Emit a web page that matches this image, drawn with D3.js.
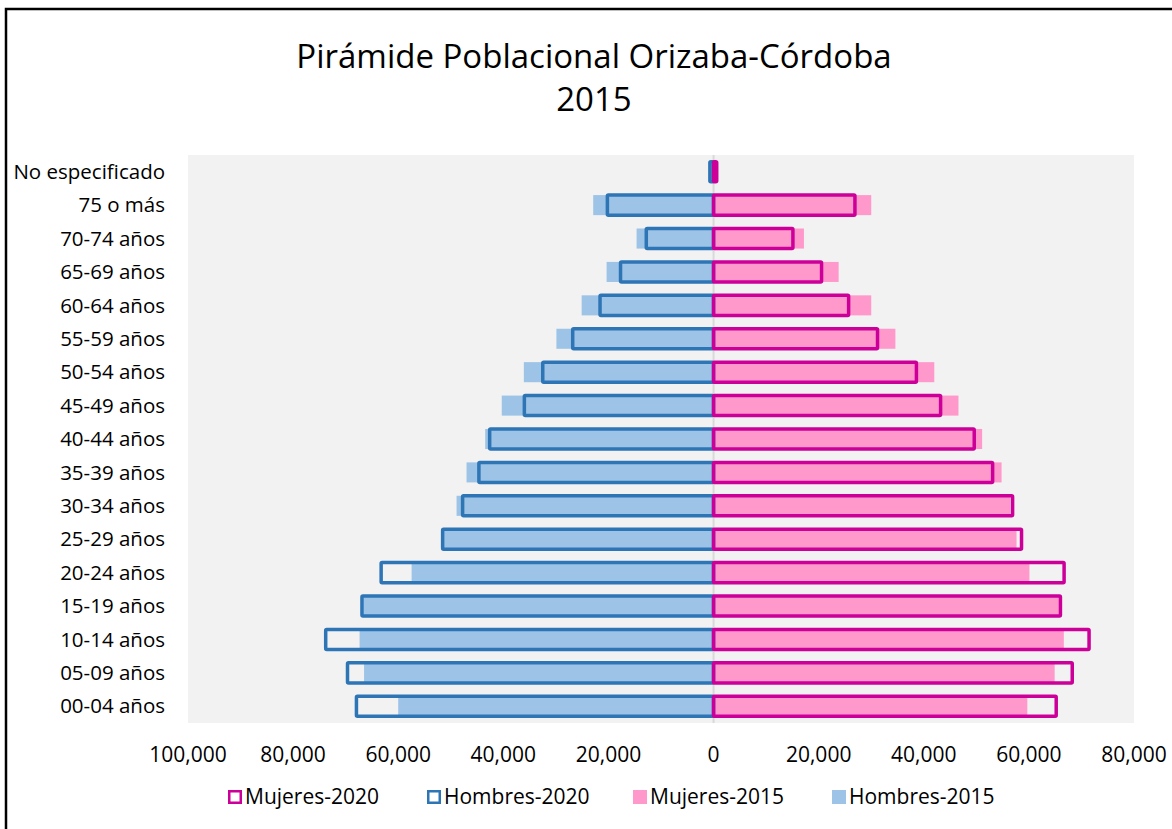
<!DOCTYPE html>
<html>
<head>
<meta charset="utf-8">
<script src="https://cdn.jsdelivr.net/npm/d3@7"></script>
<style>
  body { margin: 0; background: #fff; }
  svg text { font-family: "Open Sans", Lato, sans-serif; fill: #000; }
</style>
</head>
<body>
<svg id="chart" width="1172" height="829"></svg>
<script>
const ageGroups = ['No especificado', '75 o más', '70-74 años', '65-69 años', '60-64 años',
  '55-59 años', '50-54 años', '45-49 años', '40-44 años', '35-39 años', '30-34 años',
  '25-29 años', '20-24 años', '15-19 años', '10-14 años', '05-09 años', '00-04 años'];

const hombres2015 = [700, 22900, 14650, 20350, 25100, 29900, 36100, 40300, 43450, 47000, 48900,
  51300, 57450, 66700, 67350, 66500, 60000];
const mujeres2015 = [600, 30000, 17200, 23800, 30000, 34600, 42000, 46600, 51100, 54800, 56500,
  57650, 60100, 65700, 66650, 64900, 59700];
const hombres2020 = [700, 20200, 12800, 17700, 21600, 26800, 32500, 36000, 42600, 44650, 47750,
  51550, 63250, 66900, 73800, 69650, 67950];
const mujeres2020 = [600, 26900, 15100, 20550, 25700, 31200, 38600, 43200, 49600, 53100, 56900,
  58600, 66700, 66000, 71450, 68250, 65200];

const xTicks = [-100000, -80000, -60000, -40000, -20000, 0, 20000, 40000, 60000, 80000];

const colors = {
  m2020: '#CC0099',
  h2020: '#2E75B6',
  m2015: '#FF99CC',
  h2015: '#9DC3E6',
};

const svg = d3.select('#chart');
const plotLeft = 188, plotRight = 1134, plotTop = 155, plotBottom = 723;

// outer frame
svg.append('rect')
  .attr('x', 6).attr('y', 9)
  .attr('width', 1300).attr('height', 1000)
  .attr('fill', 'none').attr('stroke', '#000').attr('stroke-width', 2.5);

// title
svg.append('text').attr('x', 594).attr('y', 68).attr('text-anchor', 'middle')
  .style('font-size', '33px').text('Pirámide Poblacional Orizaba-Córdoba');
svg.append('text').attr('x', 594).attr('y', 111).attr('text-anchor', 'middle')
  .style('font-size', '33px').text('2015');

// plot background
svg.append('rect').attr('x', plotLeft).attr('y', plotTop)
  .attr('width', plotRight - plotLeft).attr('height', plotBottom - plotTop).attr('fill', '#F2F2F2');

const x = d3.scaleLinear().domain([-100000, 80000]).range([plotLeft, plotRight]);
const y = d3.scaleBand().domain(ageGroups).range([plotTop, plotBottom]).paddingInner(0.4).paddingOuter(0.2);

const rows = ageGroups.map((g, i) => ({
  g, h15: hombres2015[i], m15: mujeres2015[i], h20: hombres2020[i], m20: mujeres2020[i],
}));

// 2015 filled bars
svg.append('g').selectAll('rect').data(rows).enter().append('rect')
  .attr('x', (d) => x(-d.h15)).attr('y', (d) => y(d.g))
  .attr('width', (d) => x(0) - x(-d.h15)).attr('height', y.bandwidth())
  .attr('fill', colors.h2015);
svg.append('g').selectAll('rect').data(rows).enter().append('rect')
  .attr('x', x(0)).attr('y', (d) => y(d.g))
  .attr('width', (d) => x(d.m15) - x(0)).attr('height', y.bandwidth())
  .attr('fill', colors.m2015);

// zero axis line
svg.append('line').attr('x1', x(0)).attr('x2', x(0)).attr('y1', plotTop).attr('y2', plotBottom)
  .attr('stroke', '#D9D9D9').attr('stroke-width', 2);

// 2020 outlined bars
svg.append('g').selectAll('rect').data(rows).enter().append('rect')
  .attr('x', (d) => x(-d.h20)).attr('y', (d) => y(d.g))
  .attr('width', (d) => x(0) - x(-d.h20)).attr('height', y.bandwidth())
  .attr('fill', 'none').attr('stroke', colors.h2020).attr('stroke-width', 3.5)
  .attr('rx', 1);
svg.append('g').selectAll('rect').data(rows).enter().append('rect')
  .attr('x', x(0)).attr('y', (d) => y(d.g))
  .attr('width', (d) => x(d.m20) - x(0)).attr('height', y.bandwidth())
  .attr('fill', 'none').attr('stroke', colors.m2020).attr('stroke-width', 3.5)
  .attr('rx', 1);

// category labels
svg.append('g').selectAll('text').data(ageGroups).enter().append('text')
  .attr('x', 165).attr('y', (d) => y(d) + y.bandwidth() / 2)
  .attr('dy', '0.35em').attr('text-anchor', 'end')
  .style('font-size', '20.5px').text((d) => d);

// x tick labels
const fmt = d3.format(',');
svg.append('g').selectAll('text').data(xTicks).enter().append('text')
  .attr('x', (d) => x(d)).attr('y', 762).attr('text-anchor', 'middle')
  .style('font-size', '21px').text((d) => fmt(Math.abs(d)));

// legend
const legend = [
  { label: 'Mujeres-2020', color: colors.m2020, outline: true, x: 228 },
  { label: 'Hombres-2020', color: colors.h2020, outline: true, x: 427 },
  { label: 'Mujeres-2015', color: colors.m2015, outline: false, x: 633 },
  { label: 'Hombres-2015', color: colors.h2015, outline: false, x: 832 },
];
const lg = svg.append('g').selectAll('g').data(legend).enter().append('g')
  .attr('transform', (d) => `translate(${d.x}, 790)`);
lg.append('rect')
  .attr('x', (d) => d.outline ? 1.25 : 0).attr('y', (d) => d.outline ? 1.25 : 0)
  .attr('width', (d) => d.outline ? 11.5 : 14).attr('height', (d) => d.outline ? 11.5 : 14)
  .attr('fill', (d) => d.outline ? '#fff' : d.color)
  .attr('stroke', (d) => d.outline ? d.color : 'none').attr('stroke-width', 2.5);
lg.append('text').attr('x', 17).attr('y', 7).attr('dy', '0.35em')
  .style('font-size', '21px').text((d) => d.label);
</script>
</body>
</html>
